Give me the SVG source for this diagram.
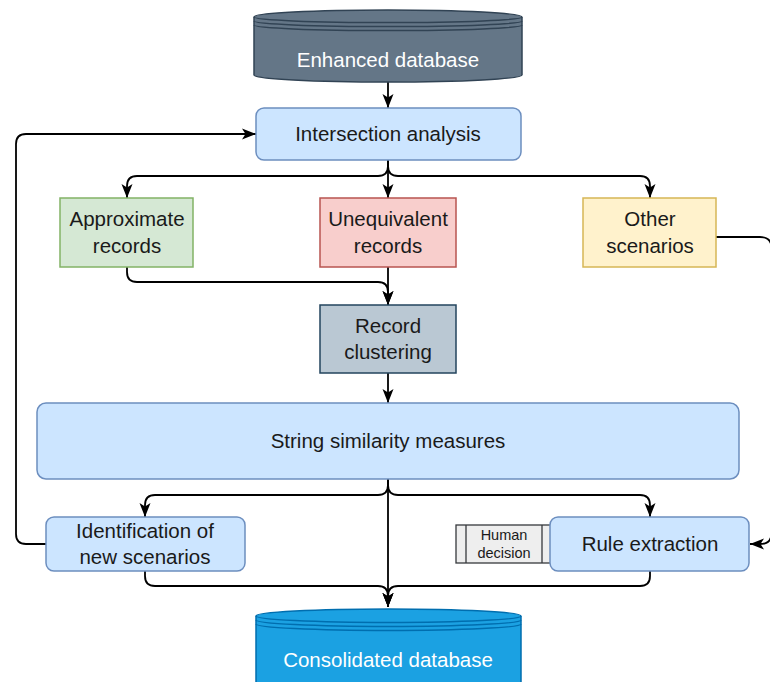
<svg xmlns="http://www.w3.org/2000/svg" width="770" height="682" viewBox="0 0 770 682">
  <style>
    text { font-family: "Liberation Sans", Arial, sans-serif; font-size: 20.5px; fill: #1a1a1a; text-anchor: middle; dominant-baseline: central; }
    .light { fill: #ffffff; }
    .small { font-size: 14.5px; }
    .blue { fill: #cce5ff; stroke: #6c8ebf; stroke-width: 1.5; }
    .edge { fill: none; stroke: #000000; stroke-width: 1.8; }
  </style>
  <defs>
    <marker id="arrow" markerUnits="userSpaceOnUse" markerWidth="16" markerHeight="16" viewBox="0 0 16 16" refX="15" refY="8" orient="auto">
      <path d="M1,2.5 L15,8 L1,13.5 L4.5,8 Z" fill="#000000"/>
    </marker>
  </defs>

  <!-- connectors -->
  <g id="connectors">
    <path class="edge" d="M388,82 V108" marker-end="url(#arrow)"/>
    <path class="edge" d="M388,160 V166 Q388,176 378,176 H137 Q127,176 127,186 V198" marker-end="url(#arrow)"/>
    <path class="edge" d="M388,160 V198" marker-end="url(#arrow)"/>
    <path class="edge" d="M388,160 V166 Q388,176 398,176 H640 Q650,176 650,186 V198" marker-end="url(#arrow)"/>
    <path class="edge" d="M127,267 V272 Q127,282 137,282 H378 Q388,282 388,292 V305" marker-end="url(#arrow)"/>
    <path class="edge" d="M388,267 V305" marker-end="url(#arrow)"/>
    <path class="edge" d="M388,373 V403" marker-end="url(#arrow)"/>
    <path class="edge" d="M388,479 V485 Q388,495 378,495 H155 Q145,495 145,505 V517" marker-end="url(#arrow)"/>
    <path class="edge" d="M388,479 V485 Q388,495 398,495 H640 Q650,495 650,505 V517" marker-end="url(#arrow)"/>
    <path class="edge" d="M388,479 V607" marker-end="url(#arrow)"/>
    <path class="edge" d="M145,571 V576 Q145,586 155,586 H378 Q388,586 388,596 V607" marker-end="url(#arrow)"/>
    <path class="edge" d="M650,571 V576 Q650,586 640,586 H398 Q388,586 388,596 V607" marker-end="url(#arrow)"/>
    <path class="edge" d="M46,544 H26 Q16,544 16,534 V144 Q16,134 26,134 H256" marker-end="url(#arrow)"/>
    <path class="edge" d="M716,237 H760 Q771.5,237 771.5,248 V533 Q771.5,544 760,544 H750" marker-end="url(#arrow)"/>
  </g>

  <!-- Enhanced database -->
  <g id="enhanced-db">
    <path d="M254,17 A134,7 0 0 1 522,17 V75 A134,7 0 0 1 254,75 Z" fill="#647687" stroke="#314354" stroke-width="1.5"/>
    <path d="M254,17 A134,5.5 0 0 0 522,17" fill="none" stroke="#314354" stroke-width="1.5"/>
    <path d="M254,21 A134,5.5 0 0 0 522,21" fill="none" stroke="#314354" stroke-width="1.5"/>
    <path d="M254,25 A134,5.5 0 0 0 522,25" fill="none" stroke="#314354" stroke-width="1.5"/>
    <text class="light" x="388" y="59">Enhanced database</text>
  </g>

  <!-- Intersection analysis -->
  <g id="intersection">
    <rect class="blue" x="256" y="108" width="265" height="52" rx="8"/>
    <text x="388" y="133">Intersection analysis</text>
  </g>

  <!-- Approximate records -->
  <g id="approximate">
    <rect x="60" y="198" width="133" height="69" fill="#d5e8d4" stroke="#82b366" stroke-width="1.5"/>
    <text x="127" y="218">Approximate</text>
    <text x="127" y="245">records</text>
  </g>

  <!-- Unequivalent records -->
  <g id="unequivalent">
    <rect x="320" y="198" width="136" height="69" fill="#f8cecc" stroke="#b85450" stroke-width="1.5"/>
    <text x="388" y="218">Unequivalent</text>
    <text x="388" y="245">records</text>
  </g>

  <!-- Other scenarios -->
  <g id="other">
    <rect x="583" y="198" width="133" height="69" fill="#fff2cc" stroke="#d6b656" stroke-width="1.5"/>
    <text x="650" y="218">Other</text>
    <text x="650" y="245">scenarios</text>
  </g>

  <!-- Record clustering -->
  <g id="clustering">
    <rect x="320" y="305" width="136" height="68" fill="#bac8d3" stroke="#23445d" stroke-width="1.5"/>
    <text x="388" y="325">Record</text>
    <text x="388" y="351">clustering</text>
  </g>

  <!-- String similarity measures -->
  <g id="similarity">
    <rect class="blue" x="37" y="403" width="702" height="76" rx="9"/>
    <text x="388" y="440">String similarity measures</text>
  </g>

  <!-- Identification of new scenarios -->
  <g id="identification">
    <rect class="blue" x="46" y="517" width="199" height="54" rx="8"/>
    <text x="145" y="530">Identification of</text>
    <text x="145" y="556">new scenarios</text>
  </g>

  <!-- Human decision -->
  <g id="human-decision">
    <rect x="456" y="525" width="96" height="38" fill="#eeeeee" stroke="#36393d" stroke-width="1.3"/>
    <line x1="466" y1="525" x2="466" y2="563" stroke="#36393d" stroke-width="1.3"/>
    <line x1="542" y1="525" x2="542" y2="563" stroke="#36393d" stroke-width="1.3"/>
    <text class="small" x="504" y="535">Human</text>
    <text class="small" x="504" y="553">decision</text>
  </g>

  <!-- Rule extraction -->
  <g id="rule-extraction">
    <rect class="blue" x="550" y="517" width="199" height="54" rx="8"/>
    <text x="650" y="543">Rule extraction</text>
  </g>

  <!-- Consolidated database -->
  <g id="consolidated-db">
    <path d="M256,616 A132.5,7 0 0 1 521,616 V700 H256 Z" fill="#1ba1e2" stroke="#006eaf" stroke-width="1.5"/>
    <path d="M256,616 A132.5,6.5 0 0 0 521,616" fill="none" stroke="#006eaf" stroke-width="1.5"/>
    <path d="M256,620 A132.5,6.5 0 0 0 521,620" fill="none" stroke="#006eaf" stroke-width="1.5"/>
    <path d="M256,624 A132.5,6.5 0 0 0 521,624" fill="none" stroke="#006eaf" stroke-width="1.5"/>
    <text class="light" x="388" y="659">Consolidated database</text>
  </g>
</svg>
